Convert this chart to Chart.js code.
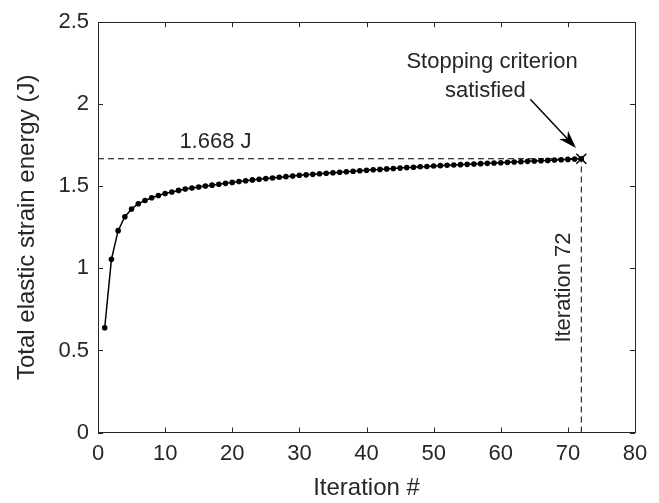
<!DOCTYPE html>
<html>
<head>
<meta charset="utf-8">
<script src="https://cdn.jsdelivr.net/npm/chart.js@4"></script>
<style>
  html, body { margin: 0; padding: 0; background: #fff; }
  #chart { display: block; }
</style>
</head>
<body>
<canvas id="chart" width="659" height="503"></canvas>
<script>
// iterations 1..72 and total elastic strain energy (J)
const iterations = [];
for (let i = 1; i <= 72; i++) iterations.push(i);

const energy = [
    0.638, 1.055, 1.230, 1.315, 1.362, 1.394, 1.414, 1.430, 1.444, 1.456,
    1.465, 1.475, 1.483, 1.490, 1.496, 1.502, 1.507, 1.513, 1.518, 1.524,
    1.529, 1.534, 1.539, 1.543, 1.547, 1.551, 1.555, 1.559, 1.563, 1.567,
    1.570, 1.573, 1.577, 1.580, 1.583, 1.586, 1.589, 1.592, 1.595, 1.598,
    1.601, 1.603, 1.606, 1.609, 1.611, 1.614, 1.616, 1.619, 1.621, 1.624,
    1.626, 1.628, 1.630, 1.632, 1.634, 1.636, 1.638, 1.640, 1.642, 1.644,
    1.646, 1.648, 1.650, 1.652, 1.654, 1.656, 1.658, 1.660, 1.662, 1.664,
    1.666, 1.668
];

const stopIteration = 72;
const stopEnergy = 1.668;

const xTicks = [0, 10, 20, 30, 40, 50, 60, 70, 80];
const yTicks = [0, 0.5, 1, 1.5, 2, 2.5];

const TEXT = '#262626';
const FONT = "'Liberation Sans', Arial, sans-serif";

const seriesPoints = iterations.map((it, i) => ({ x: it, y: energy[i] }));

// box, inward ticks on all four sides (MATLAB style)
const boxPlugin = {
    id: 'box',
    beforeDatasetsDraw(chart) {
        const { ctx, chartArea: a } = chart;
        const xs = chart.scales.x, ys = chart.scales.y;
        const len = 5;
        ctx.save();
        ctx.strokeStyle = TEXT;
        ctx.lineWidth = 1;
        ctx.beginPath();
        xTicks.forEach(v => {
            const px = Math.round(xs.getPixelForValue(v)) + 0.5;
            ctx.moveTo(px, a.bottom); ctx.lineTo(px, a.bottom - len);
            ctx.moveTo(px, a.top); ctx.lineTo(px, a.top + len);
        });
        yTicks.forEach(v => {
            const py = Math.round(ys.getPixelForValue(v)) + 0.5;
            ctx.moveTo(a.left, py); ctx.lineTo(a.left + len, py);
            ctx.moveTo(a.right, py); ctx.lineTo(a.right - len, py);
        });
        ctx.stroke();
        ctx.strokeRect(Math.round(a.left) + 0.5, Math.round(a.top) + 0.5,
            Math.round(a.right - a.left), Math.round(a.bottom - a.top));
        ctx.restore();
    }
};

// text annotations and the arrow
const notePlugin = {
    id: 'notes',
    afterDatasetsDraw(chart) {
        const { ctx } = chart;
        const xs = chart.scales.x, ys = chart.scales.y;
        const px = v => xs.getPixelForValue(v);
        const py = v => ys.getPixelForValue(v);
        ctx.save();
        ctx.fillStyle = TEXT;
        ctx.font = '22px ' + FONT;
        ctx.textAlign = 'center';
        ctx.textBaseline = 'middle';
        ctx.fillText(stopEnergy.toFixed(3) + ' J', px(17.5), py(1.77));
        ctx.fillText('Stopping criterion', px(58.7), py(2.256));
        ctx.fillText('satisfied', px(57.7), py(2.083));

        ctx.save();
        ctx.translate(px(69.4), py(0.883));
        ctx.rotate(-Math.PI / 2);
        ctx.fillText('Iteration ' + stopIteration, 0, 0);
        ctx.restore();

        // arrow
        const x1 = px(64.4), y1 = py(2.031);
        const x2 = px(71.2), y2 = py(1.734);
        const ang = Math.atan2(y2 - y1, x2 - x1);
        const head = 18, wid = 6;
        ctx.strokeStyle = '#000';
        ctx.fillStyle = '#000';
        ctx.lineWidth = 1.5;
        ctx.beginPath();
        ctx.moveTo(x1, y1);
        ctx.lineTo(x2 - Math.cos(ang) * head * 0.7, y2 - Math.sin(ang) * head * 0.7);
        ctx.stroke();
        ctx.beginPath();
        ctx.moveTo(x2, y2);
        ctx.lineTo(x2 - Math.cos(ang) * head + Math.sin(ang) * wid,
                   y2 - Math.sin(ang) * head - Math.cos(ang) * wid);
        ctx.lineTo(x2 - Math.cos(ang) * head * 0.7, y2 - Math.sin(ang) * head * 0.7);
        ctx.lineTo(x2 - Math.cos(ang) * head - Math.sin(ang) * wid,
                   y2 - Math.sin(ang) * head + Math.cos(ang) * wid);
        ctx.closePath();
        ctx.fill();
        ctx.restore();
    }
};

const whiteBg = {
    id: 'whiteBg',
    beforeDraw(chart) {
        const ctx = chart.ctx;
        ctx.save();
        ctx.fillStyle = '#fff';
        ctx.fillRect(0, 0, chart.width, chart.height);
        ctx.restore();
    }
};

new Chart(document.getElementById('chart'), {
    type: 'line',
    data: {
        datasets: [
            {
                label: 'energy',
                data: seriesPoints,
                borderColor: '#000',
                backgroundColor: '#000',
                borderWidth: 1.5,
                pointRadius: 2.8,
                pointBorderWidth: 0,
                pointBackgroundColor: '#000',
                tension: 0,
                order: 0
            },
            {
                label: 'stop',
                data: [{ x: stopIteration, y: stopEnergy }],
                showLine: false,
                pointStyle: 'crossRot',
                pointRadius: 7,
                borderColor: '#000',
                pointBorderWidth: 1.5,
                order: 0
            },
            {
                label: 'hline',
                data: [{ x: 0, y: stopEnergy }, { x: stopIteration, y: stopEnergy }],
                borderColor: '#000',
                borderWidth: 1,
                borderDash: [6, 4],
                pointRadius: 0,
                order: 2
            },
            {
                label: 'vline',
                data: [{ x: stopIteration, y: 0 }, { x: stopIteration, y: stopEnergy }],
                borderColor: '#000',
                borderWidth: 1,
                borderDash: [6, 4],
                pointRadius: 0,
                order: 2
            }
        ]
    },
    options: {
        responsive: false,
        animation: false,
        layout: { padding: { top: 21, right: 24, left: 0, bottom: 0 } },
        plugins: {
            legend: { display: false },
            tooltip: { enabled: false }
        },
        scales: {
            x: {
                type: 'linear',
                min: 0,
                max: 80,
                afterBuildTicks: s => { s.ticks = xTicks.map(v => ({ value: v })); },
                afterFit: s => { s.height = 70.5; },
                grid: { display: false, drawTicks: false },
                border: { display: false },
                ticks: {
                    color: TEXT, font: { family: FONT, size: 22 }, padding: 8, maxRotation: 0,
                    callback: v => String(v)
                },
                title: {
                    display: true,
                    text: 'Iteration #',
                    color: TEXT,
                    font: { family: FONT, size: 24 },
                    padding: { top: 0, bottom: 0 }
                }
            },
            y: {
                type: 'linear',
                min: 0,
                max: 2.5,
                afterBuildTicks: s => { s.ticks = yTicks.map(v => ({ value: v })); },
                afterFit: s => { s.width = 98; },
                grid: { display: false, drawTicks: false },
                border: { display: false },
                ticks: {
                    color: TEXT, font: { family: FONT, size: 22 }, padding: 9,
                    callback: v => String(v)
                },
                title: {
                    display: true,
                    text: 'Total elastic strain energy (J)',
                    color: TEXT,
                    font: { family: FONT, size: 24 },
                    padding: { top: 13, bottom: 0 }
                }
            }
        }
    },
    plugins: [whiteBg, boxPlugin, notePlugin]
});
</script>
</body>
</html>
